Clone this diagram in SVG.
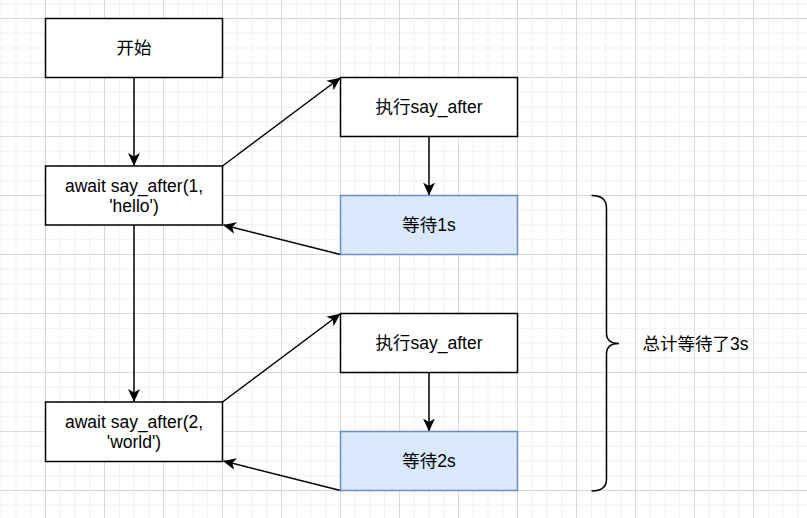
<svg xmlns="http://www.w3.org/2000/svg" width="807" height="518" viewBox="0 0 807 518">
<defs>
<pattern id="grid" patternUnits="userSpaceOnUse" x="45" y="18" width="59" height="59">
<rect x="14.75" y="0" width="1" height="59" fill="#f0f0f0"/>
<rect x="29.5" y="0" width="1" height="59" fill="#f0f0f0"/>
<rect x="44.25" y="0" width="1" height="59" fill="#f0f0f0"/>
<rect x="0" y="14.75" width="59" height="1" fill="#f0f0f0"/>
<rect x="0" y="29.5" width="59" height="1" fill="#f0f0f0"/>
<rect x="0" y="44.25" width="59" height="1" fill="#f0f0f0"/>
<rect x="0" y="0" width="1" height="59" fill="#d9d9d9"/>
<rect x="0" y="0" width="59" height="1" fill="#d9d9d9"/>
</pattern>
<marker id="arrow" markerUnits="userSpaceOnUse" viewBox="0 0 13 13" markerWidth="13" markerHeight="13" refX="12.5" refY="6.5" orient="auto">
<path d="M0,0.5 L13,6.5 L0,12.5 L3.5,6.5 Z" fill="#000"/>
</marker>
<style>
.box{fill:#ffffff;stroke:#000000;stroke-width:1.5}
.blue{fill:#dae8fc;stroke:#6c8ebf;stroke-width:1.5}
.t{font-family:"Liberation Sans","Noto Sans CJK SC",sans-serif;font-size:17.5px;fill:#000;text-anchor:middle}
.edge{fill:none;stroke:#000;stroke-width:1.5;marker-end:url(#arrow)}
</style>
</defs>
<rect x="0" y="0" width="807" height="518" fill="#ffffff"/>
<rect x="0" y="0" width="807" height="518" fill="url(#grid)"/>

<g id="connectors">
<path class="edge" d="M134,78 L134,165.5"/>
<path class="edge" d="M222.5,166 L340,78"/>
<path class="edge" d="M429,136.5 L429,195"/>
<path class="edge" d="M340.5,254.5 L223.5,225"/>
<path class="edge" d="M134,225 L134,401.5"/>
<path class="edge" d="M222.5,402 L340,314"/>
<path class="edge" d="M429,372.5 L429,431"/>
<path class="edge" d="M340.5,490.5 L223.5,461"/>
</g>

<g id="start">
<rect class="box" x="45.5" y="18.5" width="177" height="59"/>
<text class="t" x="134" y="54">开始</text>
</g>
<g id="await1">
<rect class="box" x="45.5" y="166" width="177" height="59"/>
<text class="t" x="134" y="191.5">await say_after(1,</text>
<text class="t" x="134" y="212">'hello')</text>
</g>
<g id="exec1">
<rect class="box" x="340.5" y="77.5" width="177" height="59"/>
<text class="t" x="429" y="113">执行say_after</text>
</g>
<g id="wait1">
<rect class="blue" x="340.5" y="195.5" width="177" height="59"/>
<text class="t" x="429" y="231">等待1s</text>
</g>
<g id="await2">
<rect class="box" x="45.5" y="402" width="177" height="59.5"/>
<text class="t" x="134" y="427.5">await say_after(2,</text>
<text class="t" x="134" y="448">'world')</text>
</g>
<g id="exec2">
<rect class="box" x="340.5" y="313.5" width="177" height="59"/>
<text class="t" x="429" y="349">执行say_after</text>
</g>
<g id="wait2">
<rect class="blue" x="340.5" y="431.5" width="177" height="59"/>
<text class="t" x="429" y="467">等待2s</text>
</g>
<g id="brace">
<path d="M591.5,195.5 Q606.5,195.5 606.5,208 L606.5,333 Q606.5,343.5 619,343.5 Q606.5,343.5 606.5,354 L606.5,479 Q606.5,491 591.5,491" fill="none" stroke="#000" stroke-width="1.5"/>
<text class="t" x="695.5" y="349.5">总计等待了3s</text>
</g>
</svg>
